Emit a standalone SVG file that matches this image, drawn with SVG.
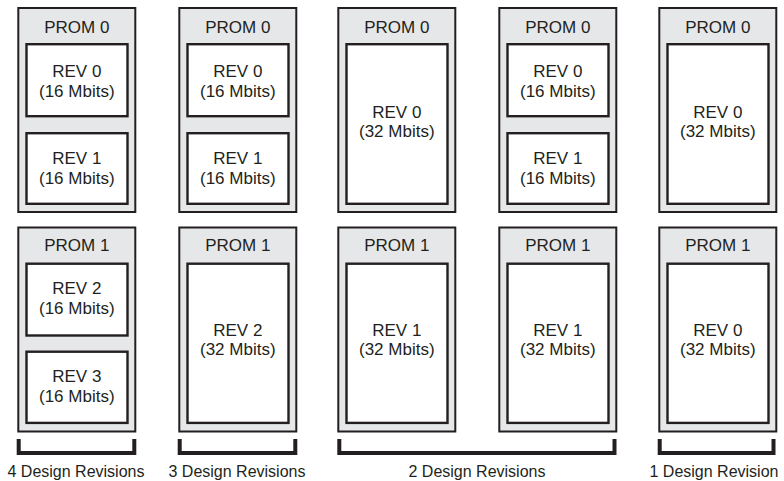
<svg xmlns="http://www.w3.org/2000/svg" width="784" height="481" viewBox="0 0 784 481">
<style>
.prom{fill:#e6e7e8;stroke:#231f20;stroke-width:2}
.rev{fill:#ffffff;stroke:#231f20;stroke-width:2.4}
text{font-family:"Liberation Sans",Arial,sans-serif;fill:#231f20;text-anchor:middle}
.t{font-size:17px}
.lab{font-size:16px}
.br{fill:none;stroke:#231f20;stroke-width:4;stroke-linejoin:miter}
</style>
<rect width="784" height="481" fill="#ffffff"/>

<!-- Column 1 -->
<g id="c1-prom0">
<rect class="prom" x="18.3" y="8" width="117" height="204"/>
<text class="t" x="76.8" y="33">PROM 0</text>
<rect class="rev" x="26.5" y="44.2" width="101" height="72"/>
<text class="t" x="76.8" y="77.3">REV 0</text><text class="t" x="76.8" y="96.7">(16 Mbits)</text>
<rect class="rev" x="26.5" y="133.2" width="101" height="70.6"/>
<text class="t" x="76.8" y="164.3">REV 1</text><text class="t" x="76.8" y="184.3">(16 Mbits)</text>
</g>
<g id="c1-prom1">
<rect class="prom" x="18.3" y="227.5" width="117" height="204"/>
<text class="t" x="76.8" y="250.7">PROM 1</text>
<rect class="rev" x="26.5" y="263.7" width="101" height="71.8"/>
<text class="t" x="76.8" y="294">REV 2</text><text class="t" x="76.8" y="314">(16 Mbits)</text>
<rect class="rev" x="26.5" y="351.7" width="101" height="71.2"/>
<text class="t" x="76.8" y="381.7">REV 3</text><text class="t" x="76.8" y="401.7">(16 Mbits)</text>
</g>

<!-- Column 2 -->
<g id="c2-prom0">
<rect class="prom" x="179.3" y="8" width="117" height="204"/>
<text class="t" x="237.8" y="33">PROM 0</text>
<rect class="rev" x="187.5" y="44.2" width="101" height="72"/>
<text class="t" x="237.8" y="77.3">REV 0</text><text class="t" x="237.8" y="96.7">(16 Mbits)</text>
<rect class="rev" x="187.5" y="133.2" width="101" height="70.6"/>
<text class="t" x="237.8" y="164.3">REV 1</text><text class="t" x="237.8" y="184.3">(16 Mbits)</text>
</g>
<g id="c2-prom1">
<rect class="prom" x="179.3" y="227.5" width="117" height="204"/>
<text class="t" x="237.8" y="250.7">PROM 1</text>
<rect class="rev" x="187.5" y="263.7" width="101" height="159.2"/>
<text class="t" x="237.8" y="336">REV 2</text><text class="t" x="237.8" y="355">(32 Mbits)</text>
</g>

<!-- Column 3 -->
<g id="c3-prom0">
<rect class="prom" x="338.3" y="8" width="117" height="204"/>
<text class="t" x="396.8" y="33">PROM 0</text>
<rect class="rev" x="346.5" y="44.2" width="101" height="159.6"/>
<text class="t" x="396.8" y="117.7">REV 0</text><text class="t" x="396.8" y="136.7">(32 Mbits)</text>
</g>
<g id="c3-prom1">
<rect class="prom" x="338.3" y="227.5" width="117" height="204"/>
<text class="t" x="396.8" y="250.7">PROM 1</text>
<rect class="rev" x="346.5" y="263.7" width="101" height="159.2"/>
<text class="t" x="396.8" y="336">REV 1</text><text class="t" x="396.8" y="355">(32 Mbits)</text>
</g>

<!-- Column 4 -->
<g id="c4-prom0">
<rect class="prom" x="499.3" y="8" width="117" height="204"/>
<text class="t" x="557.8" y="33">PROM 0</text>
<rect class="rev" x="507.5" y="44.2" width="101" height="72"/>
<text class="t" x="557.8" y="77.3">REV 0</text><text class="t" x="557.8" y="96.7">(16 Mbits)</text>
<rect class="rev" x="507.5" y="133.2" width="101" height="70.6"/>
<text class="t" x="557.8" y="164.3">REV 1</text><text class="t" x="557.8" y="184.3">(16 Mbits)</text>
</g>
<g id="c4-prom1">
<rect class="prom" x="499.3" y="227.5" width="117" height="204"/>
<text class="t" x="557.8" y="250.7">PROM 1</text>
<rect class="rev" x="507.5" y="263.7" width="101" height="159.2"/>
<text class="t" x="557.8" y="336">REV 1</text><text class="t" x="557.8" y="355">(32 Mbits)</text>
</g>

<!-- Column 5 -->
<g id="c5-prom0">
<rect class="prom" x="659.3" y="8" width="117" height="204"/>
<text class="t" x="717.8" y="33">PROM 0</text>
<rect class="rev" x="667.5" y="44.2" width="101" height="159.6"/>
<text class="t" x="717.8" y="117.7">REV 0</text><text class="t" x="717.8" y="136.7">(32 Mbits)</text>
</g>
<g id="c5-prom1">
<rect class="prom" x="659.3" y="227.5" width="117" height="204"/>
<text class="t" x="717.8" y="250.7">PROM 1</text>
<rect class="rev" x="667.5" y="263.7" width="101" height="159.2"/>
<text class="t" x="717.8" y="336">REV 0</text><text class="t" x="717.8" y="355">(32 Mbits)</text>
</g>

<!-- Brackets -->
<g id="connectors">
<path class="br" d="M18.7 439 V453 H134.3 V439"/>
<path class="br" d="M179.7 439 V453 H295.3 V439"/>
<path class="br" d="M339.3 439 V453 H614.5 V439"/>
<path class="br" d="M659.7 439 V453 H773.5 V439"/>
</g>

<g id="labels">
<text class="lab" x="76" y="476.5">4 Design Revisions</text>
<text class="lab" x="237" y="476.5">3 Design Revisions</text>
<text class="lab" x="477" y="476.5">2 Design Revisions</text>
<text class="lab" x="714" y="476.5">1 Design Revision</text>
</g>
</svg>
